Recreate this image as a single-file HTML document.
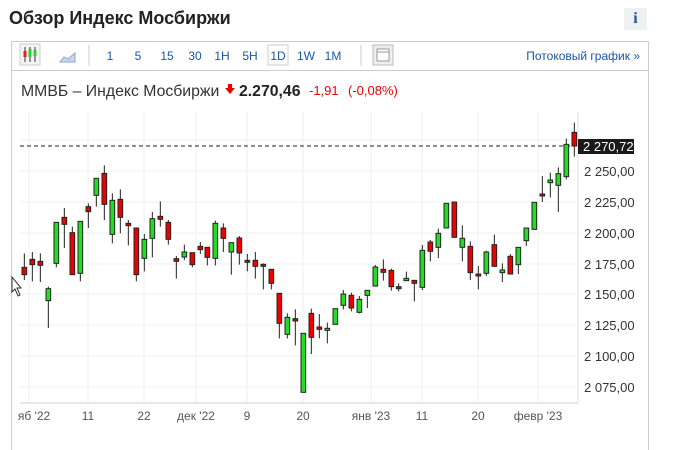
<!DOCTYPE html>
<html><head><meta charset="utf-8"><style>
body{margin:0;width:675px;height:449px;background:#fff;overflow:hidden;font-family:"Liberation Sans",sans-serif;position:relative}
.t{position:absolute;white-space:nowrap}
</style></head><body>
<div class="t" style="left:9px;top:8px;font-size:18px;font-weight:bold;color:#222">Обзор Индекс Мосбиржи</div>
<div class="t" style="left:624px;top:8px;width:23px;height:22px;background:#eef0f3;color:#1a56a8;font:bold 16px 'Liberation Serif',serif;text-align:center;line-height:22px">i</div>
<div style="position:absolute;left:11px;top:41px;width:636px;height:408px;border-left:1px solid #ccc;border-right:1px solid #ccc;border-top:1px solid #ccc"></div>
<div style="position:absolute;left:11px;top:70px;width:637px;height:1px;background:#ccc"></div>
<svg width="675" height="449" style="position:absolute;left:0;top:0" font-family="Liberation Sans, sans-serif">
<rect x="20" y="44" width="20" height="21" fill="#f4f4f4" stroke="#ccc"/>
<line x1="25" y1="47" x2="25" y2="62" stroke="#333"/><rect x="23.5" y="51" width="3" height="6" fill="#d22"/>
<line x1="30" y1="47" x2="30" y2="62" stroke="#333"/><rect x="28.5" y="49" width="3" height="8" fill="#3c3"/>
<line x1="35" y1="47" x2="35" y2="62" stroke="#333"/><rect x="33.5" y="50" width="3" height="6" fill="#3c3"/>
<path d="M60 62 L64 57 L68 59 L75 53 L75 62 Z" fill="#c8d8ea" stroke="#8aa8cc"/>
<line x1="89" y1="45" x2="89" y2="66" stroke="#ccc"/>
<g font-size="12" fill="#1a56a8" text-anchor="middle">
<text x="110" y="60">1</text><text x="138" y="60">5</text><text x="167" y="60">15</text><text x="195" y="60">30</text>
<text x="222" y="60">1H</text><text x="250" y="60">5H</text>
<rect x="268" y="45" width="20" height="20" fill="#fff" stroke="#ccc"/><text x="278" y="60">1D</text>
<text x="306" y="60">1W</text><text x="333" y="60">1M</text></g>
<line x1="361" y1="45" x2="361" y2="66" stroke="#ccc"/>
<rect x="373" y="45" width="20" height="20" fill="#eee" stroke="#bbb"/>
<rect x="377" y="49" width="12" height="12" fill="#fff" stroke="#999"/><line x1="377" y1="52" x2="389" y2="52" stroke="#999"/>
<text x="640" y="60" font-size="12" fill="#1a56a8" text-anchor="end">Потоковый график »</text>
<text x="21" y="96" font-size="15.8" fill="#333">ММВБ – Индекс Мосбиржи</text>
<path d="M228 84 L232 84 L232 88 L235 88 L230 94 L225 88 L228 88Z" fill="#e00"/>
<text x="239" y="96" font-size="15.8" font-weight="bold" fill="#222">2.270,46</text>
<text x="309" y="95" font-size="13" fill="#e00">-1,91</text>
<text x="348" y="95" font-size="13" fill="#e00">(-0,08%)</text>
<g stroke="#eef0f2">
<line x1="20" x2="578" y1="140" y2="140"/><line x1="20" x2="578" y1="171" y2="171"/><line x1="20" x2="578" y1="202" y2="202"/>
<line x1="20" x2="578" y1="233" y2="233"/><line x1="20" x2="578" y1="264" y2="264"/><line x1="20" x2="578" y1="294" y2="294"/>
<line x1="20" x2="578" y1="325" y2="325"/><line x1="20" x2="578" y1="356" y2="356"/><line x1="20" x2="578" y1="387" y2="387"/>
<line x1="29" x2="29" y1="112" y2="403"/><line x1="88" x2="88" y1="112" y2="403"/><line x1="144" x2="144" y1="112" y2="403"/>
<line x1="196" x2="196" y1="112" y2="403"/><line x1="247" x2="247" y1="112" y2="403"/><line x1="303" x2="303" y1="112" y2="403"/>
<line x1="371" x2="371" y1="112" y2="403"/><line x1="422" x2="422" y1="112" y2="403"/><line x1="478" x2="478" y1="112" y2="403"/>
<line x1="538" x2="538" y1="112" y2="403"/>
</g>
<line x1="20" x2="578" y1="403" y2="403" stroke="#ccd"/>
<line x1="578" x2="578" y1="112" y2="403" stroke="#dde"/>
<line x1="20" x2="578" y1="146" y2="146" stroke="#222" stroke-dasharray="4,3"/>
<g font-size="12" fill="#555" text-anchor="middle">
<text x="34" y="420">яб '22</text><text x="88" y="420">11</text><text x="144" y="420">22</text><text x="196" y="420">дек '22</text>
<text x="247" y="420">9</text><text x="303" y="420">20</text><text x="371" y="420">янв '23</text><text x="422" y="420">11</text>
<text x="478" y="420">20</text><text x="538" y="420">февр '23</text></g>
<g font-size="13" fill="#333">
<text x="584" y="176">2 250,00</text><text x="584" y="207">2 225,00</text><text x="584" y="238">2 200,00</text>
<text x="584" y="269">2 175,00</text><text x="584" y="299">2 150,00</text><text x="584" y="330">2 125,00</text>
<text x="584" y="361">2 100,00</text><text x="584" y="392">2 075,00</text></g>
<rect x="578" y="139" width="56" height="15" fill="#1a1a1a"/>
<text x="583" y="151" font-size="13" fill="#fff">2 270,72</text>
<g transform="translate(0,110) scale(0.33333)" stroke="#222" stroke-width="3">
<path d="M73 430V510M97 426V514M121 430V516M145 530V654M169 337V472M193 294V414M217 350V494M241 334V514M265 280V354M289 205V290M313 166V330M337 250V400M361 238V370M385 330V406M409 354V514M433 372V484M457 306V442M481 274V350M505 330V404M529 438V506M553 404V450M577 428V472M601 396V432M622 412V466M646 332V466M670 340V426M694 398V494M718 378V464M742 432V484M766 426V506M790 460V538M814 478V538M838 550V685M862 610V685M886 598V706M910 670V847M934 596V732M958 612V685M982 638V700M1006 596V643"/>
<g fill="#e00">
<rect x="66" y="472" width="14" height="22"/><rect x="90" y="448" width="14" height="16"/><rect x="114" y="454" width="14" height="12"/>
<rect x="186" y="322" width="14" height="21"/><rect x="210" y="368" width="14" height="126"/><rect x="258" y="290" width="14" height="15"/>
<rect x="306" y="190" width="14" height="93"/><rect x="354" y="268" width="14" height="54"/><rect x="378" y="340" width="14" height="7"/>
<rect x="402" y="354" width="14" height="140"/><rect x="474" y="319" width="14" height="9"/><rect x="498" y="337" width="14" height="51"/>
<rect x="522" y="446" width="14" height="8"/><rect x="570" y="428" width="14" height="36"/><rect x="594" y="409" width="14" height="10"/>
<rect x="615" y="412" width="14" height="30"/><rect x="663" y="354" width="14" height="31"/><rect x="711" y="384" width="14" height="45"/>
<rect x="735" y="451" width="14" height="6"/><rect x="759" y="451" width="14" height="18"/><rect x="783" y="463" width="14" height="6"/>
<rect x="807" y="478" width="14" height="42"/><rect x="831" y="550" width="14" height="90"/><rect x="879" y="626" width="14" height="7"/>
<rect x="927" y="610" width="14" height="72"/><rect x="951" y="651" width="14" height="7"/>
</g>
<g fill="#2d2">
<rect x="138" y="536" width="14" height="36"/><rect x="162" y="337" width="14" height="123"/><rect x="234" y="334" width="14" height="156"/>
<rect x="282" y="205" width="14" height="51"/><rect x="330" y="271" width="14" height="102"/><rect x="426" y="388" width="14" height="57"/>
<rect x="450" y="326" width="14" height="59"/><rect x="546" y="426" width="14" height="15"/><rect x="639" y="340" width="14" height="105"/>
<rect x="687" y="398" width="14" height="28"/><rect x="855" y="622" width="14" height="51"/><rect x="903" y="670" width="14" height="177"/>
<rect x="975" y="655" width="14" height="6"/><rect x="999" y="596" width="14" height="47"/>
</g></g>
<g transform="translate(330,110) scale(0.33333)" stroke="#222" stroke-width="3">
<path d="M40 540V598M64 548V604M88 558V610M112 541V594M136 465V530M160 448V512M184 476V542M206 520V544M229 485V512M253 511V574M277 405V540M301 390V454M325 356V444M349 280V354M373 276V382M397 346V454M421 394V510M445 468V538M469 422V498M493 374V469M517 460V516M541 432V492M565 412V492M589 354V408M613 277V358M637 198V276M661 188V262M685 172V306M709 86V208M733 38V140"/>
<g fill="#e00">
<rect x="57" y="556" width="14" height="38"/><rect x="153" y="478" width="14" height="9"/><rect x="177" y="481" width="14" height="49"/>
<rect x="199" y="530" width="14" height="6"/><rect x="246" y="511" width="14" height="9"/><rect x="294" y="396" width="14" height="28"/>
<rect x="366" y="276" width="14" height="106"/><rect x="414" y="409" width="14" height="79"/><rect x="438" y="492" width="14" height="6"/>
<rect x="486" y="404" width="14" height="65"/><rect x="534" y="439" width="14" height="53"/><rect x="630" y="252" width="14" height="6"/>
<rect x="726" y="67" width="14" height="41"/>
</g>
<g fill="#2d2">
<rect x="33" y="552" width="14" height="34"/><rect x="81" y="568" width="14" height="39"/><rect x="105" y="541" width="14" height="15"/>
<rect x="129" y="471" width="14" height="57"/><rect x="222" y="505" width="14" height="7"/><rect x="270" y="421" width="14" height="111"/>
<rect x="318" y="370" width="14" height="42"/><rect x="342" y="280" width="14" height="74"/><rect x="390" y="385" width="14" height="27"/>
<rect x="462" y="426" width="14" height="64"/><rect x="510" y="480" width="14" height="8"/><rect x="558" y="412" width="14" height="52"/>
<rect x="582" y="354" width="14" height="38"/><rect x="606" y="277" width="14" height="81"/><rect x="654" y="210" width="14" height="8"/>
<rect x="678" y="191" width="14" height="35"/><rect x="702" y="103" width="14" height="97"/>
</g></g>
<path d="M12 277 L12 292 L15 289 L18 296 L20 295 L17 288 L21 288 Z" fill="#fff" stroke="#333"/>
</svg>
</body></html>
